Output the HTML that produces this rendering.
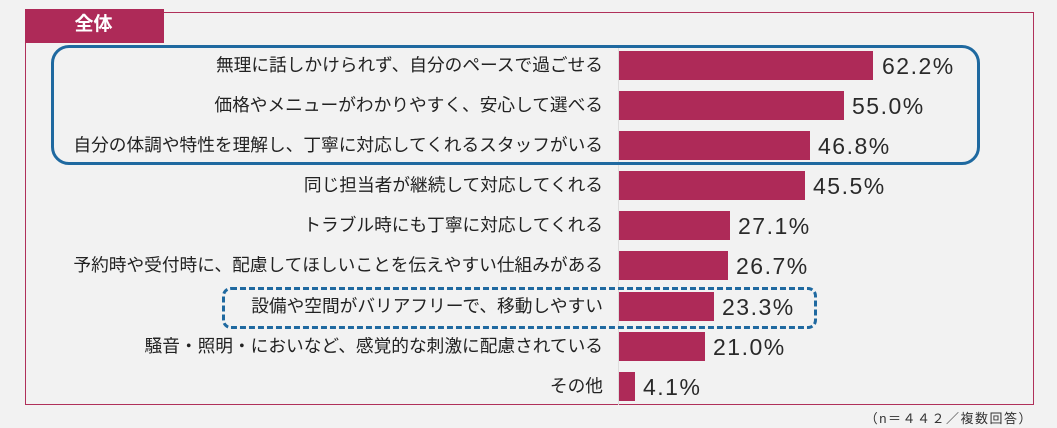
<!DOCTYPE html>
<html><head><meta charset="utf-8"><style>
body{margin:0;width:1057px;height:428px;background:#f2f2f2;position:relative;overflow:hidden;font-family:"Liberation Sans","Noto Sans CJK JP",sans-serif;}
.frame{position:absolute;left:25px;top:12px;width:1009px;height:393px;border:1px solid #b0305a;box-sizing:border-box;}
.tab{position:absolute;left:25px;top:9px;width:139px;height:34px;background:#ae2a58;color:#fff;font-weight:bold;font-size:19px;line-height:32px;text-align:center;}
.tab span{position:relative;left:-1px}
.axis{position:absolute;left:618px;top:45px;width:1px;height:360px;background:#ddd;}
.lbl{position:absolute;right:454px;font-size:17.7px;color:#222;height:29px;line-height:29px;white-space:nowrap;}
.bar{position:absolute;left:619px;height:29px;background:#ae2a58;}
.val{position:absolute;font-size:23px;color:#2a2a2a;height:29px;line-height:29px;letter-spacing:1.5px}
.box{position:absolute;left:51px;top:45px;width:929px;height:120px;border:3px solid #1f69a0;border-radius:18px;box-sizing:border-box;}
.dbox{position:absolute;left:222px;top:287px;width:595px;height:42px;border:3px dashed #1f69a0;border-radius:9px;box-sizing:border-box;}
.note{position:absolute;right:24px;top:408px;font-size:13px;color:#333;letter-spacing:1.5px}
</style></head><body>
<div class="frame"></div>
<div class="tab"><span>全体</span></div>
<div class="axis"></div>

<div class="lbl" style="top:51px">無理に話しかけられず、自分のペースで過ごせる</div>
<div class="bar" style="top:51px;width:254px"></div><div class="val" style="top:52px;left:882px">62.2%</div>

<div class="lbl" style="top:91px">価格やメニューがわかりやすく、安心して選べる</div>
<div class="bar" style="top:91px;width:225px"></div><div class="val" style="top:92px;left:852px">55.0%</div>

<div class="lbl" style="top:131px">自分の体調や特性を理解し、丁寧に対応してくれるスタッフがいる</div>
<div class="bar" style="top:131px;width:191px"></div><div class="val" style="top:132px;left:818px">46.8%</div>

<div class="lbl" style="top:171px">同じ担当者が継続して対応してくれる</div>
<div class="bar" style="top:171px;width:186px"></div><div class="val" style="top:172px;left:813px">45.5%</div>

<div class="lbl" style="top:211px">トラブル時にも丁寧に対応してくれる</div>
<div class="bar" style="top:211px;width:111px"></div><div class="val" style="top:212px;left:738px">27.1%</div>

<div class="lbl" style="top:251px">予約時や受付時に、配慮してほしいことを伝えやすい仕組みがある</div>
<div class="bar" style="top:251px;width:109px"></div><div class="val" style="top:252px;left:736px">26.7%</div>

<div class="lbl" style="top:292px">設備や空間がバリアフリーで、移動しやすい</div>
<div class="bar" style="top:292px;width:95px"></div><div class="val" style="top:293px;left:722px">23.3%</div>

<div class="lbl" style="top:332px">騒音・照明・においなど、感覚的な刺激に配慮されている</div>
<div class="bar" style="top:332px;width:86px"></div><div class="val" style="top:333px;left:713px">21.0%</div>

<div class="lbl" style="top:372px">その他</div>
<div class="bar" style="top:372px;width:16px"></div><div class="val" style="top:373px;left:643px">4.1%</div>

<div class="box"></div>
<div class="dbox"></div>
<div class="note">（n＝４４２／複数回答）</div>
</body></html>
